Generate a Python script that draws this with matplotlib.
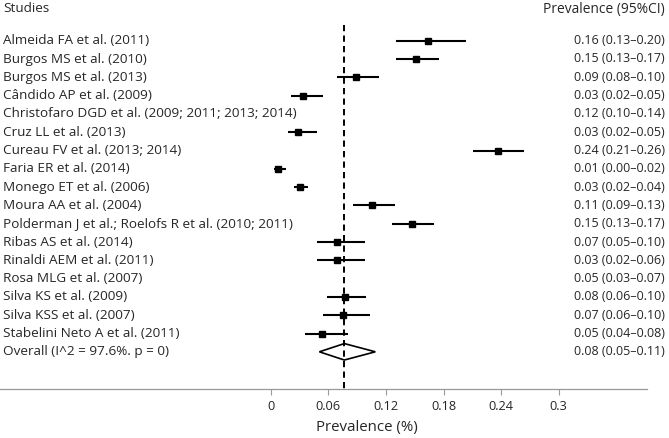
import numpy as np
import matplotlib
matplotlib.use("Agg")
import matplotlib.pyplot as plt
from matplotlib.patches import Polygon

plt.rcParams['font.family'] = ['Open Sans', 'DejaVu Sans']

studies = [
    "Almeida FA et al. (2011)",
    "Burgos MS et al. (2010)",
    "Burgos MS et al. (2013)",
    "Cândido AP et al. (2009)",
    "Christofaro DGD et al. (2009; 2011; 2013; 2014)",
    "Cruz LL et al. (2013)",
    "Cureau FV et al. (2013; 2014)",
    "Faria ER et al. (2014)",
    "Monego ET et al. (2006)",
    "Moura AA et al. (2004)",
    "Polderman J et al.; Roelofs R et al. (2010; 2011)",
    "Ribas AS et al. (2014)",
    "Rinaldi AEM et al. (2011)",
    "Rosa MLG et al. (2007)",
    "Silva KS et al. (2009)",
    "Silva KSS et al. (2007)",
    "Stabelini Neto A et al. (2011)",
]
ci_text = [
    "0.16 (0.13–0.20)", "0.15 (0.13–0.17)", "0.09 (0.08–0.10)", "0.03 (0.02–0.05)",
    "0.12 (0.10–0.14)", "0.03 (0.02–0.05)", "0.24 (0.21–0.26)", "0.01 (0.00–0.02)",
    "0.03 (0.02–0.04)", "0.11 (0.09–0.13)", "0.15 (0.13–0.17)", "0.07 (0.05–0.10)",
    "0.03 (0.02–0.06)", "0.05 (0.03–0.07)", "0.08 (0.06–0.10)", "0.07 (0.06–0.10)",
    "0.05 (0.04–0.08)",
]
# marks as drawn in the picture (two rows have no mark)
est = [0.1635, 0.151, 0.089, 0.034, np.nan, 0.028, 0.2365, 0.0075, 0.030, 0.106,
       0.147, 0.069, 0.069, np.nan, 0.077, 0.075, 0.053]
lo = [0.130, 0.130, 0.069, 0.021, np.nan, 0.0175, 0.211, 0.0035, 0.0245, 0.0855,
      0.126, 0.0485, 0.0485, np.nan, 0.059, 0.054, 0.0355]
hi = [0.2035, 0.175, 0.1125, 0.054, np.nan, 0.048, 0.2635, 0.016, 0.039, 0.129,
      0.170, 0.098, 0.098, np.nan, 0.099, 0.1035, 0.081]

overall_label = "Overall (I^2 = 97.6%. p = 0)"
overall_text = "0.08 (0.05–0.11)"
overall = [0.0767, 0.0507, 0.109]  # estimate, lower, upper

xticks = [0, 0.06, 0.12, 0.18, 0.24, 0.3]
xtick_labels = ["0", "0.06", "0.12", "0.18", "0.24", "0.3"]

W, H = 669, 438
fig = plt.figure(figsize=(W / 100, H / 100), dpi=100)
ax_bottom_px = 389
ax = fig.add_axes([0, 1 - ax_bottom_px / H, 647 / W, ax_bottom_px / H])

n = len(studies)
rows = np.arange(n)
row0_px, step_px = 40.7, 18.3
ax.set_ylim((ax_bottom_px - row0_px) / step_px, -row0_px / step_px)
x0_px, ppu = 270.7, 960.0
ax.set_xlim(-x0_px / ppu, (647 - x0_px) / ppu)

txt_color = "#262626"
fs_lab = 9.7
fs_val = 9.0

for i in rows:
    if not np.isnan(est[i]):
        ax.plot([lo[i], hi[i]], [i, i], color="black", lw=1.5, solid_capstyle="butt", zorder=3)
        ax.plot(est[i], i, marker="s", color="black", markersize=4.6, zorder=4)

# overall diamond
oy = n
dh = 0.45
diamond = Polygon([[overall[1], oy], [overall[0], oy - dh], [overall[2], oy],
                   [overall[0], oy + dh]], closed=True, fill=False,
                  edgecolor="black", lw=1.2, zorder=3)
ax.add_patch(diamond)

ax.vlines(overall[0], -0.85, ax.get_ylim()[0], colors="black", linestyles=(0, (3.2, 2.2)),
          lw=1.4, zorder=2)

# labels
lab_tr = matplotlib.transforms.blended_transform_factory(fig.transFigure, ax.transData)
for i in rows:
    ax.text(3 / W, i, studies[i], transform=lab_tr, ha="left", va="center",
            fontsize=fs_lab, color=txt_color)
    ax.text(665 / W, i, ci_text[i], transform=lab_tr, ha="right", va="center",
            fontsize=fs_val, color=txt_color)
ax.text(3 / W, oy, overall_label, transform=lab_tr, ha="left", va="center",
        fontsize=fs_lab, color=txt_color)
ax.text(665 / W, oy, overall_text, transform=lab_tr, ha="right", va="center",
        fontsize=fs_val, color=txt_color)
fig.text(3 / W, 1 - 9 / H, "Studies", ha="left", va="center", fontsize=fs_lab,
         color=txt_color)
fig.text(665 / W, 1 - 9 / H, "Prevalence (95%CI)", ha="right", va="center",
         fontsize=9.9, color=txt_color)

for s in ["top", "right", "left"]:
    ax.spines[s].set_visible(False)
ax.spines["bottom"].set_color("#999999")
ax.spines["bottom"].set_linewidth(0.9)
ax.set_yticks([])
ax.set_xticks(xticks)
ax.set_xticklabels(xtick_labels)
ax.tick_params(axis="x", length=4, width=0.8, color="#999999", pad=4,
               labelsize=9.2, labelcolor=txt_color)
ax.set_facecolor("none")

fig.text((x0_px + 0.1 * ppu) / W, 1 - 428 / H, "Prevalence (%)", ha="center", va="center",
         fontsize=10.8, color=txt_color)

fig.savefig("out.png", dpi=100)
